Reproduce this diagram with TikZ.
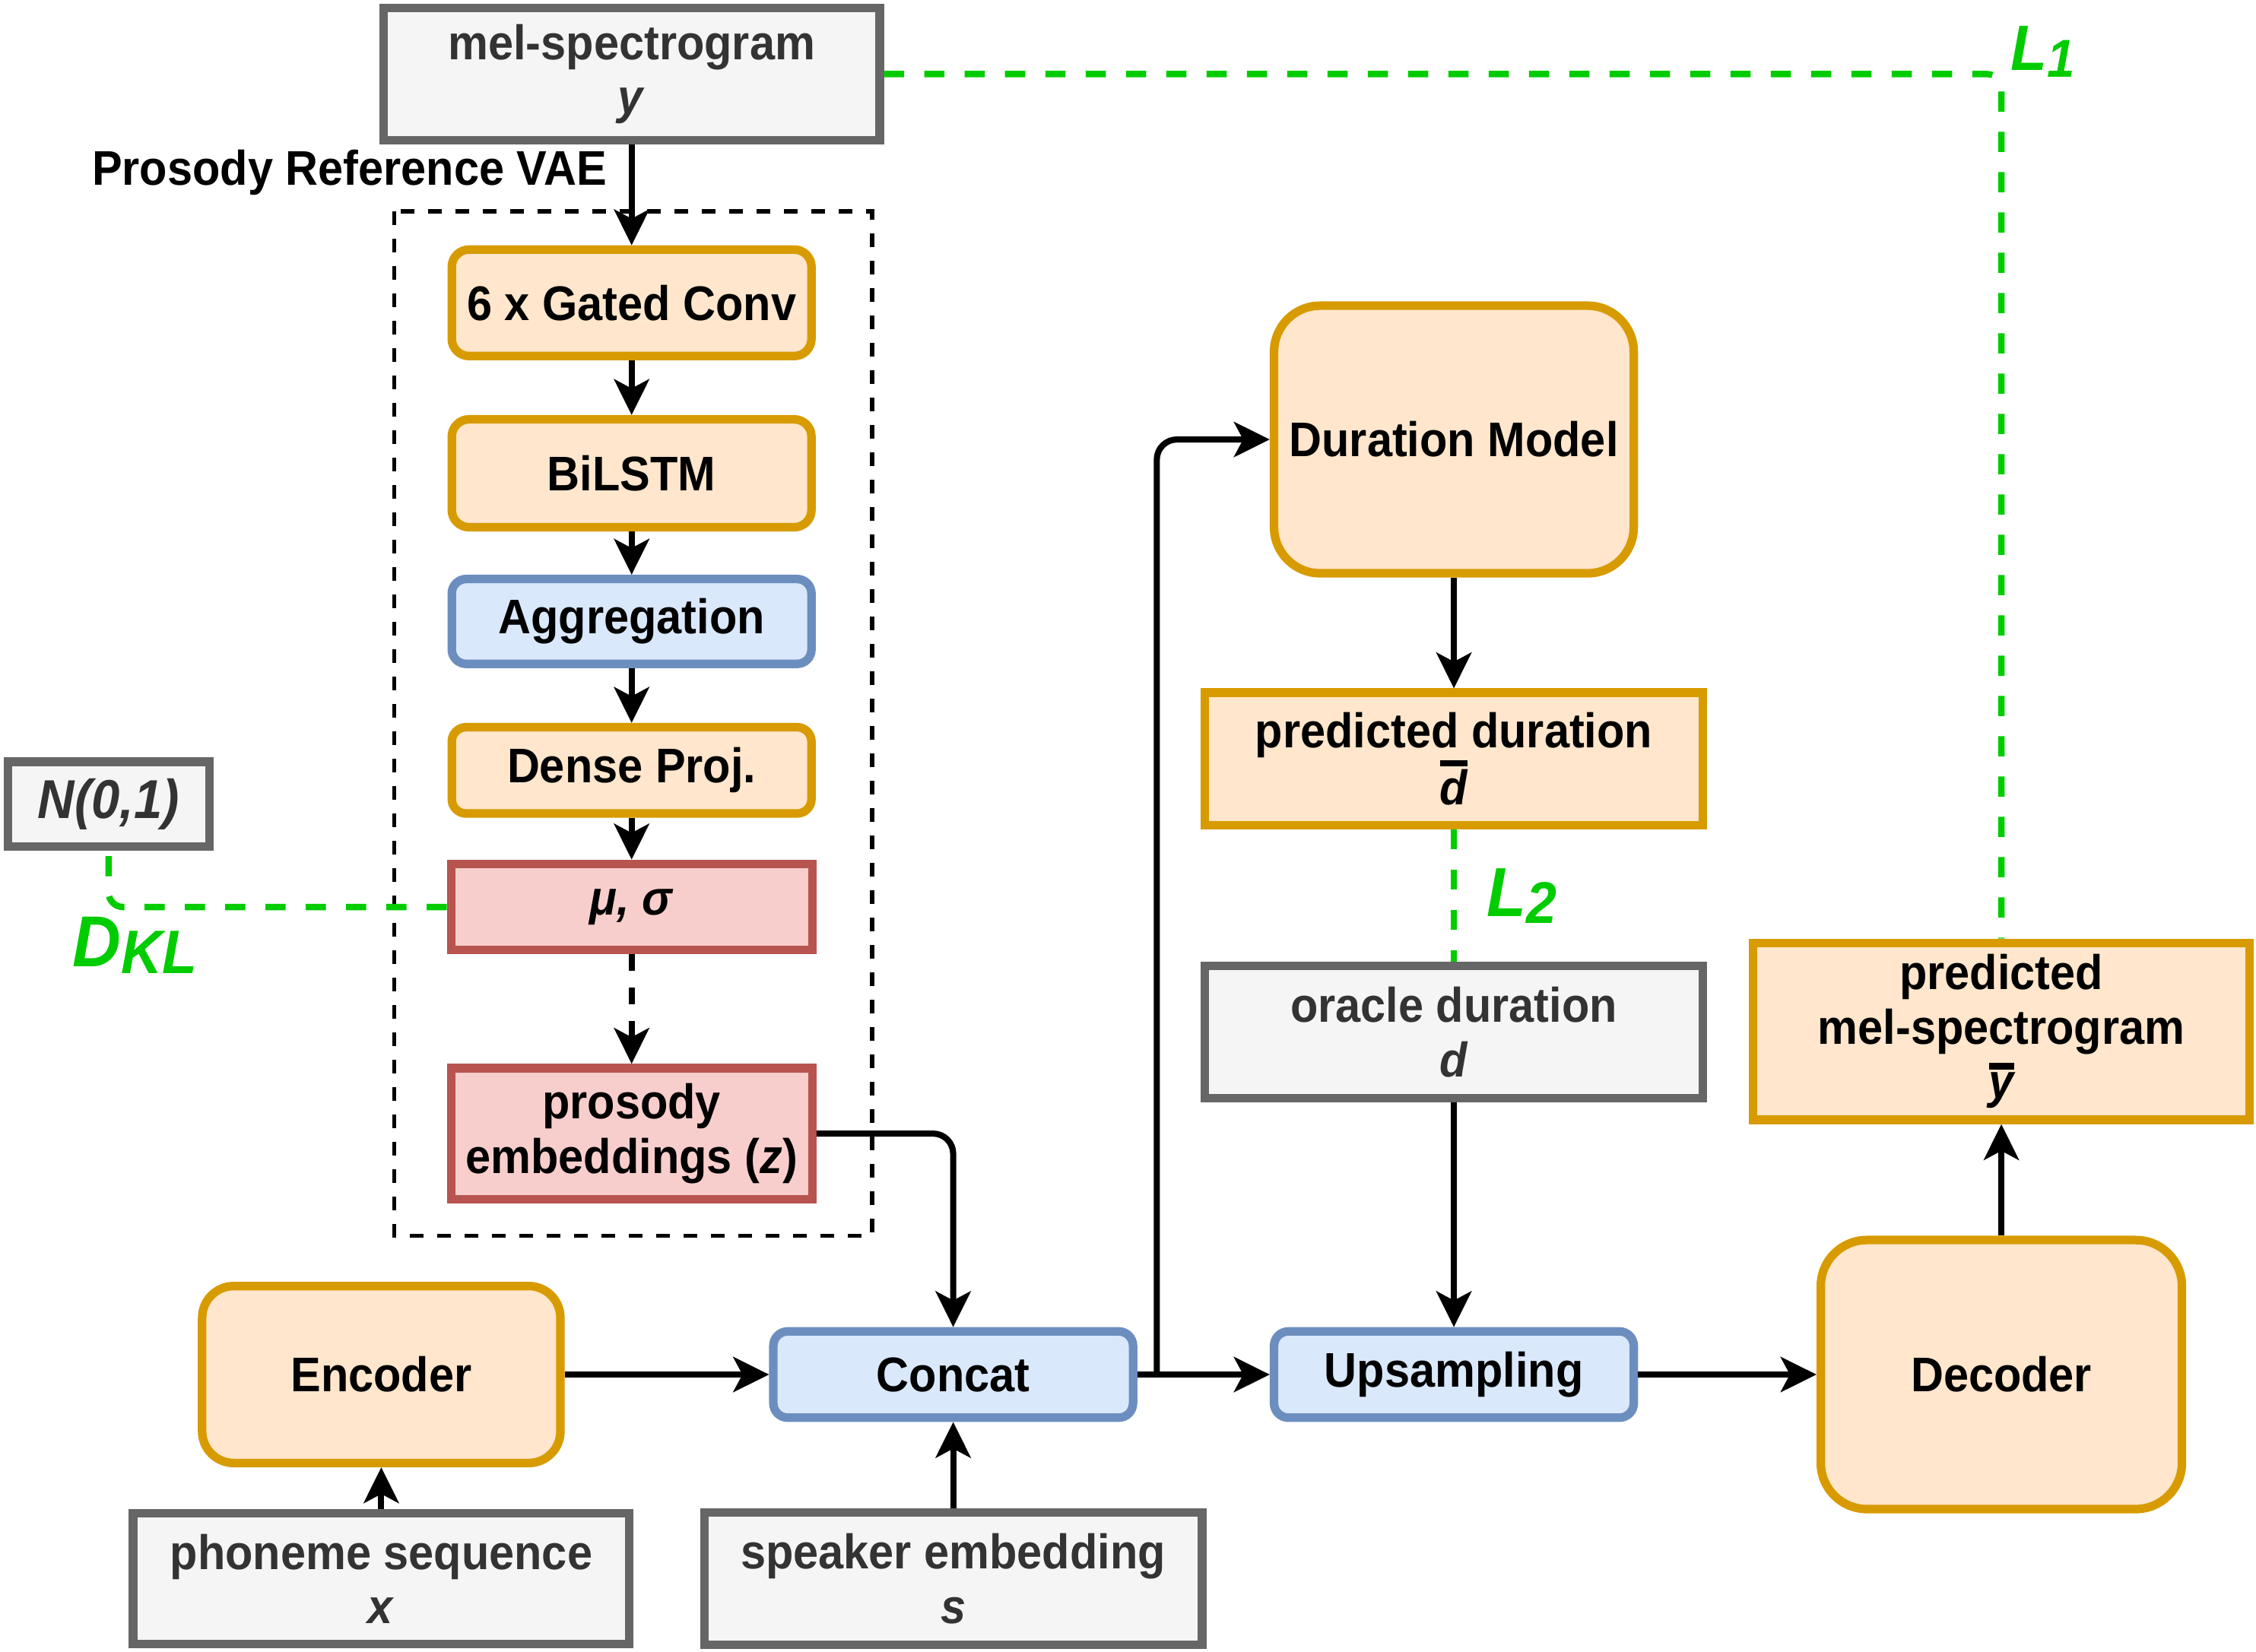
\documentclass[tikz,border=0pt]{standalone}
\usepackage{fontspec}
\setmainfont{Liberation Sans}[FakeStretch=0.93]
\usetikzlibrary{arrows.meta}
\definecolor{grayline}{HTML}{666666}
\definecolor{grayfill}{HTML}{F5F5F5}
\definecolor{graytext}{HTML}{333333}
\definecolor{orangeline}{HTML}{D79B00}
\definecolor{orangefill}{HTML}{FFE6CC}
\definecolor{blueline}{HTML}{6C8EBF}
\definecolor{bluefill}{HTML}{DAE8FC}
\definecolor{redline}{HTML}{B85450}
\definecolor{redfill}{HTML}{F8CECC}
\definecolor{lossgreen}{HTML}{00CC00}
\newcommand{\pxl}{0.01892cm}
\newcommand{\barit}[1]{\leavevmode\vbox{\hrule height 0.13em\kern0.07em\hbox{\itshape #1}}}
\newcommand{\lossname}[4]{{\fontsize{#1}{#1}\selectfont #3}\raisebox{-0.25em}{\fontsize{#2}{#2}\selectfont #4}}
\begin{document}
\begin{tikzpicture}[x = 0.01892cm, y = -0.01892cm,
	boxsize/.style 2 args = {minimum width = #1*\pxl, minimum height = #2*\pxl},
	base/.style = {draw, line width = 3.2pt, align = center, inner sep = 0pt, font = \bfseries\fontsize{18.2}{20.4}\selectfont},
	graybox/.style = {base, draw = grayline, fill = grayfill, text = graytext},
	orangebox/.style = {base, draw = orangeline, fill = orangefill},
	bluebox/.style = {base, draw = blueline, fill = bluefill},
	redbox/.style = {base, draw = redline, fill = redfill},
	arr/.style = {line width = 2.3pt, -{Stealth[length = 4.7mm, width = 4.6mm, inset = 1.2mm]}},
	loss/.style = {draw = lossgreen, line width = 2.4pt, dash pattern = on 2.65mm off 2.65mm},
	losslabel/.style = {text = lossgreen, font = \bfseries\itshape, inner sep = 0pt}]
	\useasboundingbox (0,0) rectangle (1568,1148);
	\draw[line width = 1.6pt, dash pattern = on 1.8mm off 1.8mm] (274,147) rectangle (606,859);
	\node[anchor = east, inner sep = 0pt, font = \bfseries\fontsize{18.2}{20.4}\selectfont] (vaelabel) at (422,120) {Prosody Reference VAE};
	\node[graybox, boxsize = {345}{92}] (mel) at (439,51.5) {mel-spectrogram\\\textit{y}};
	\node[orangebox, boxsize = {250}{74}, rounded corners = 12*\pxl] (gated) at (439,210.5) {6 x Gated Conv};
	\node[orangebox, boxsize = {250}{75}, rounded corners = 12*\pxl] (bilstm) at (439,329) {BiLSTM};
	\node[bluebox, boxsize = {250}{59}, rounded corners = 10*\pxl] (aggr) at (439,432) {Aggregation};
	\node[orangebox, boxsize = {250}{60}, rounded corners = 10*\pxl] (dense) at (439,535.5) {Dense Proj.};
	\node[redbox, boxsize = {251}{60}] (musig) at (439,630.5) {\textit{μ, σ}};
	\node[redbox, boxsize = {251}{91}] (prosemb) at (439,788) {prosody\\embeddings (\textit{z})};
	\node[graybox, boxsize = {140}{59}, font = \bfseries\fontsize{20.5}{22}\selectfont] (normal) at (75.5,559) {\textit{N(0,1)}};
	\node[orangebox, boxsize = {249}{123}, rounded corners = 22*\pxl] (encoder) at (265,955.5) {Encoder};
	\node[graybox, boxsize = {345}{91}] (phoneme) at (265,1097.5) {phoneme sequence\\\textit{x}};
	\node[bluebox, boxsize = {250}{60}, rounded corners = 10*\pxl] (concat) at (662.5,955.5) {Concat};
	\node[graybox, boxsize = {346}{92}] (speaker) at (662.5,1097.5) {speaker embedding\\\textit{s}};
	\node[orangebox, boxsize = {250}{186}, rounded corners = 32*\pxl] (durmodel) at (1010.5,305.5) {Duration Model};
	\node[orangebox, boxsize = {346}{92}] (preddur) at (1010.5,527.5) {predicted duration\\\barit{d}};
	\node[graybox, boxsize = {346}{92}] (oracle) at (1010.5,717.5) {oracle duration\\\textit{d}};
	\node[bluebox, boxsize = {250}{60}, rounded corners = 10*\pxl] (upsamp) at (1010.5,955.5) {Upsampling};
	\node[orangebox, boxsize = {251}{187}, rounded corners = 32*\pxl] (decoder) at (1391,955.5) {Decoder};
	\node[orangebox, boxsize = {345}{123}] (predmel) at (1391,717) {predicted\\mel-spectrogram\\\barit{y}};
	\coordinate (split) at (804,955.5);
	\draw[arr] (mel) -- (gated);
	\draw[arr] (gated) -- (bilstm);
	\draw[arr] (bilstm) -- (aggr);
	\draw[arr] (aggr) -- (dense);
	\draw[arr] (dense) -- (musig);
	\draw[arr, dash pattern = on 2.2mm off 2.2mm] (musig) -- (prosemb);
	\draw[arr, rounded corners = 14*\pxl] (prosemb.east) -| (concat.north);
	\draw[arr] (phoneme) -- (encoder);
	\draw[arr] (encoder) -- (concat);
	\draw[arr] (speaker) -- (concat);
	\draw[arr] (concat) -- (upsamp);
	\draw[arr, rounded corners = 14*\pxl] (split) |- (durmodel.west);
	\draw[arr] (durmodel) -- (preddur);
	\draw[arr] (oracle) -- (upsamp);
	\draw[arr] (upsamp) -- (decoder);
	\draw[arr] (decoder) -- (predmel);
	\draw[loss, rounded corners = 10*\pxl] (mel.east) -| (predmel.north);
	\draw[loss] (preddur) -- (oracle);
	\draw[loss, rounded corners = 10*\pxl] (musig.west) -| (normal.south);
	\node[losslabel, anchor = base west] (lone) at (1397,49) {\lossname{24}{20}{L}{1}};
	\node[losslabel, anchor = base west] (ltwo) at (1033,637) {\lossname{26}{22}{L}{2}};
	\node[losslabel, anchor = base west] (dkl) at (50,672) {\lossname{27}{23}{D}{KL}};
\end{tikzpicture}
\end{document}
